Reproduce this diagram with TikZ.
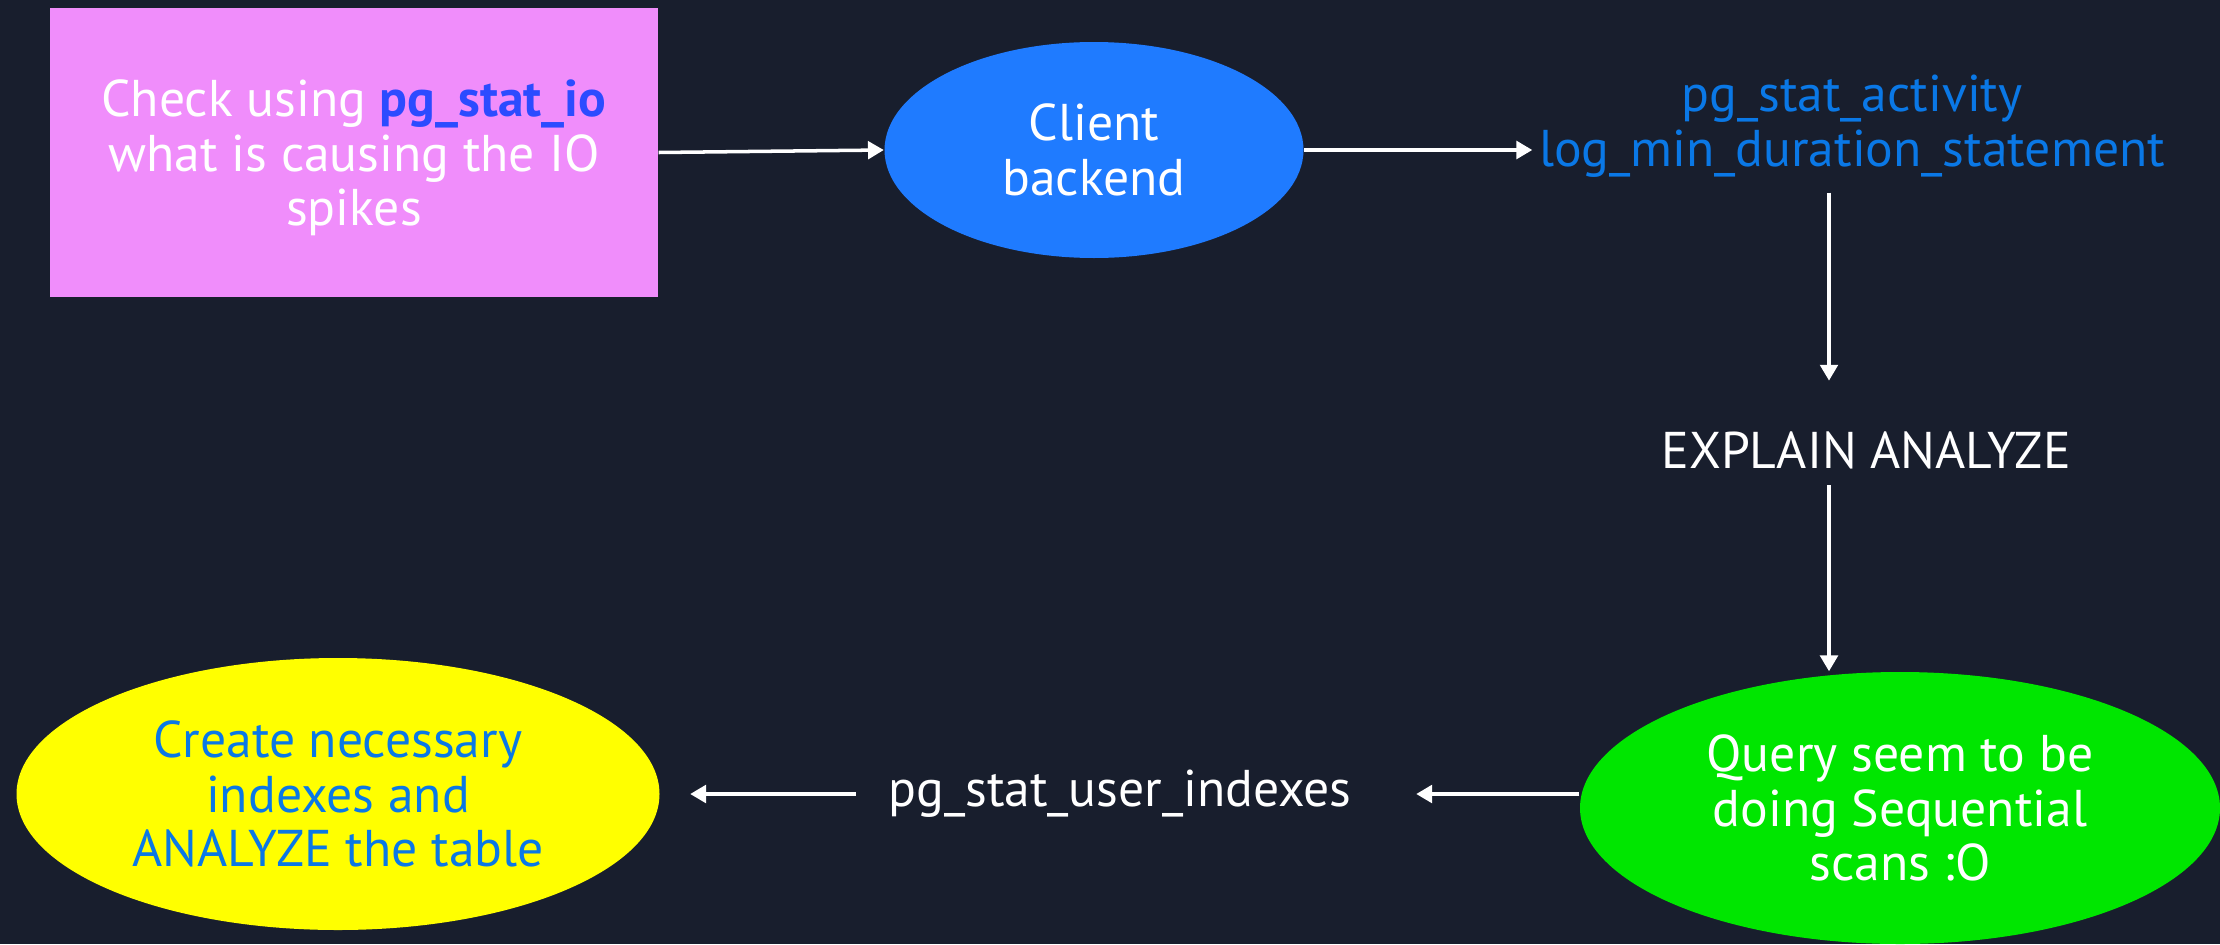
\documentclass[tikz,border=0pt]{standalone}
\usepackage{fontspec}
\setmainfont{PT Sans}
\usetikzlibrary{arrows.meta,shapes.geometric}
\definecolor{bgc}{HTML}{181E2D}
\definecolor{pinkc}{HTML}{F08DFB}
\definecolor{clientc}{HTML}{1F7BFF}
\definecolor{linkc}{HTML}{0A78E6}
\definecolor{boldblue}{HTML}{2C4BFF}
\definecolor{greenc}{HTML}{00E600}
\definecolor{yellowc}{HTML}{FFFF00}
\tikzset{
  lbl/.style={font=\fontsize{14.7}{15.5}\selectfont, align=center, inner sep=0pt},
  wlbl/.style={lbl, text=white},
  blbl/.style={lbl, text=linkc},
  oval/.style={ellipse, inner sep=0pt},
  arr/.style={draw=white, line width=1pt, -{Triangle[length=4.5pt,width=5pt]}}
}
\begin{document}
\begin{tikzpicture}
  \fill[bgc] (0,0) rectangle (22.2,-9.44);
  \useasboundingbox (0,0) rectangle (22.2,-9.44);

  % top row
  \node[rectangle, fill=pinkc, minimum width=6.08cm, minimum height=2.89cm]
    (check) at (3.54,-1.525) {};
  \node[wlbl] (checktext) at (3.54,-1.58)
    {Check using {\bfseries\color{boldblue}pg\_stat\_io}\\what is causing the IO\\spikes};
  \node[wlbl, oval, fill=clientc, minimum width=4.19cm, minimum height=2.16cm]
    (client) at (10.94,-1.50) {Client\\backend};
  \node[blbl] (act) at (18.52,-1.26) {pg\_stat\_activity\\log\_min\_duration\_statement};

  % right column
  \coordinate (vx) at (18.29,0);
  \node[wlbl] (explain) at (18.66,-4.50) {EXPLAIN ANALYZE};
  \node[wlbl, oval, fill=greenc, minimum width=6.40cm, minimum height=2.72cm]
    (query) at (19.00,-8.08) {Query seem to be\\doing Sequential\\scans :O};

  % bottom row
  \node[wlbl] (user) at (11.20,-7.94) {pg\_stat\_user\_indexes};
  \node[blbl, oval, fill=yellowc, minimum width=6.43cm, minimum height=2.72cm]
    (create) at (3.38,-7.94) {Create necessary\\indexes and\\ANALYZE the table};

  % connectors
  \draw[arr] (check.east) -- (client.west);
  \draw[arr, shorten >=0.06cm] (client.east) -- (client.east -| act.west);
  \draw[arr, shorten <=0.15cm, shorten >=0.50cm] (act.south -| vx) -- (explain.north -| vx);
  \draw[arr, shorten <=0.16cm] (explain.south -| vx) -- (query.north -| vx);
  \draw[arr, shorten >=0.64cm] (query.west |- user.east) -- (user.east);
  \draw[arr, shorten <=0.32cm, shorten >=0.30cm] (user.west) -- (create.east);
\end{tikzpicture}
\end{document}
